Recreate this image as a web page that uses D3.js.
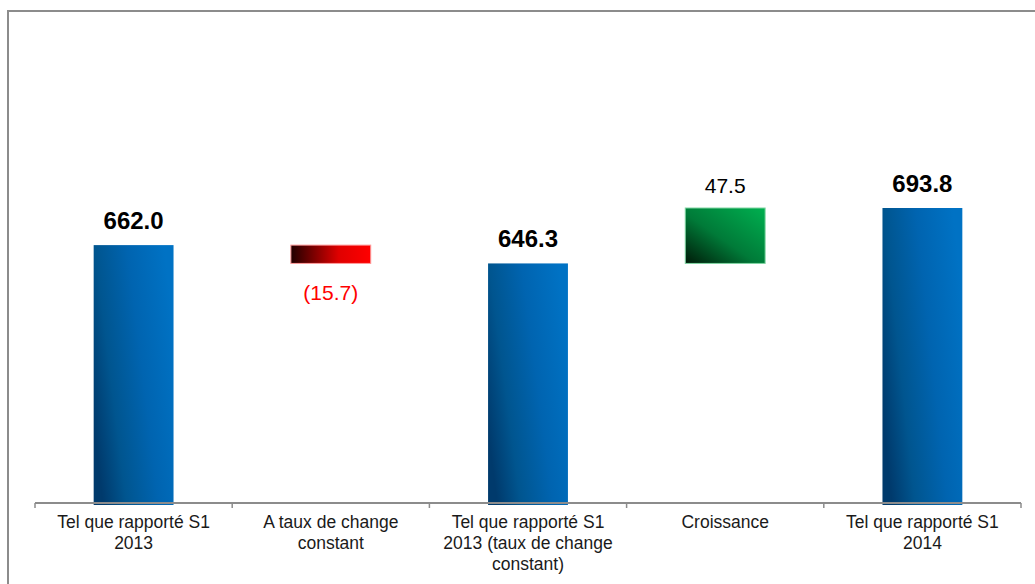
<!DOCTYPE html>
<html>
<head>
<meta charset="utf-8">
<script src="https://cdn.jsdelivr.net/npm/d3@7"></script>
<style>
  html, body { margin: 0; padding: 0; background: #fff; }
  svg { display: block; font-family: Arial, "Liberation Sans", sans-serif; }
</style>
</head>
<body>
<svg id="chart" width="1035" height="584"></svg>
<script>
// ---- data ----
const categories = [
  "Tel que rapporté S1\n2013",
  "A taux de change\nconstant",
  "Tel que rapporté S1\n2013 (taux de change\nconstant)",
  "Croissance",
  "Tel que rapporté S1\n2014"
];
const values = [662.0, -15.7, 646.3, 47.5, 693.8];
const kinds = ["total", "delta", "total", "delta", "total"];
const valueLabels = ["662.0", "(15.7)", "646.3", "47.5", "693.8"];
const yDomain = [441, 693.8];

// ---- layout ----
const svg = d3.select("#chart");
const axisY = 503;
const x = d3.scaleBand().domain(d3.range(categories.length)).range([35, 1021]).paddingInner(0.595).paddingOuter(0.2975);
const y = d3.scaleLinear().domain(yDomain).range([axisY, 208]);

// waterfall
let running = 0;
const bars = values.map((v, i) => {
  let lo, hi;
  if (kinds[i] === "total") { lo = yDomain[0]; hi = v; running = v; }
  else { const start = running; running = start + v; lo = Math.min(start, running); hi = Math.max(start, running); }
  return { i, v, kind: kinds[i], lo, hi, label: valueLabels[i] };
});

// gradients
const defs = svg.append("defs");
const gBlue = defs.append("linearGradient").attr("id", "gBlue")
  .attr("x1", 0).attr("y1", 0.7).attr("x2", 1).attr("y2", 0.3);
[[0, "#003a6c"], [0.25, "#00558f"], [0.6, "#0064b0"], [1, "#0072c4"]].forEach(s =>
  gBlue.append("stop").attr("offset", s[0]).attr("stop-color", s[1]));
const gRed = defs.append("linearGradient").attr("id", "gRed")
  .attr("x1", 0).attr("y1", 0).attr("x2", 1).attr("y2", 0);
[[0, "#200000"], [0.6, "#e00000"], [1, "#ff0000"]].forEach(s =>
  gRed.append("stop").attr("offset", s[0]).attr("stop-color", s[1]));
const gGreen = defs.append("linearGradient").attr("id", "gGreen")
  .attr("x1", 0).attr("y1", 1).attr("x2", 1).attr("y2", 0);
[[0, "#001a08"], [0.45, "#007a38"], [1, "#00b050"]].forEach(s =>
  gGreen.append("stop").attr("offset", s[0]).attr("stop-color", s[1]));

// frame
svg.append("rect").attr("x", 8).attr("y", 11).attr("width", 1040).attr("height", 600)
  .attr("fill", "none").attr("stroke", "#8c8c8c").attr("stroke-width", 2);

// bars
svg.selectAll("rect.bar").data(bars).enter().append("rect")
  .attr("class", "bar")
  .attr("x", d => x(d.i))
  .attr("width", x.bandwidth())
  .attr("y", d => y(d.hi))
  .attr("height", d => (d.kind === "total" ? y(d.lo) + 2 : y(d.lo)) - y(d.hi))
  .attr("fill", d => d.kind === "total" ? "url(#gBlue)" : (d.v < 0 ? "url(#gRed)" : "url(#gGreen)"))
  .attr("stroke", d => d.kind === "total" ? "none" : (d.v < 0 ? "#ff9a9a" : "#7fd6a2"))
  .attr("stroke-width", d => d.kind === "total" ? 0 : 1);

// axis line + boundary ticks
svg.append("line").attr("x1", x.range()[0]).attr("x2", x.range()[1])
  .attr("y1", axisY).attr("y2", axisY).attr("stroke", "#8c8c8c").attr("stroke-width", 2);
const bounds = d3.range(categories.length + 1).map(k => x.range()[0] + k * x.step());
svg.selectAll("line.tick").data(bounds).enter().append("line")
  .attr("class", "tick")
  .attr("x1", d => d).attr("x2", d => d)
  .attr("y1", axisY).attr("y2", axisY + 5)
  .attr("stroke", "#8c8c8c").attr("stroke-width", 1.5);

// category labels
const cat = svg.selectAll("text.cat").data(categories).enter().append("text")
  .attr("class", "cat")
  .attr("text-anchor", "middle")
  .attr("font-size", 17.5)
  .attr("fill", "#1a1a1a")
  .attr("transform", (d, i) => `translate(${x(i) + x.bandwidth() / 2},528)`);
cat.each(function(d) {
  const t = d3.select(this);
  d.split("\n").forEach((ln, k) => t.append("tspan").attr("x", 0).attr("y", k * 21).text(ln));
});

// value labels
svg.selectAll("text.val").data(bars).enter().append("text")
  .attr("class", "val")
  .attr("text-anchor", "middle")
  .attr("x", d => x(d.i) + x.bandwidth() / 2)
  .attr("y", d => d.kind === "total" ? y(d.hi) - 16 : (d.v < 0 ? y(d.lo) + 37 : y(d.hi) - 15))
  .attr("font-size", d => d.kind === "total" ? 24 : 21)
  .attr("font-weight", d => d.kind === "total" ? "bold" : "normal")
  .attr("fill", d => d.kind === "delta" && d.v < 0 ? "#ff0000" : "#000")
  .text(d => d.label);
</script>
</body>
</html>
